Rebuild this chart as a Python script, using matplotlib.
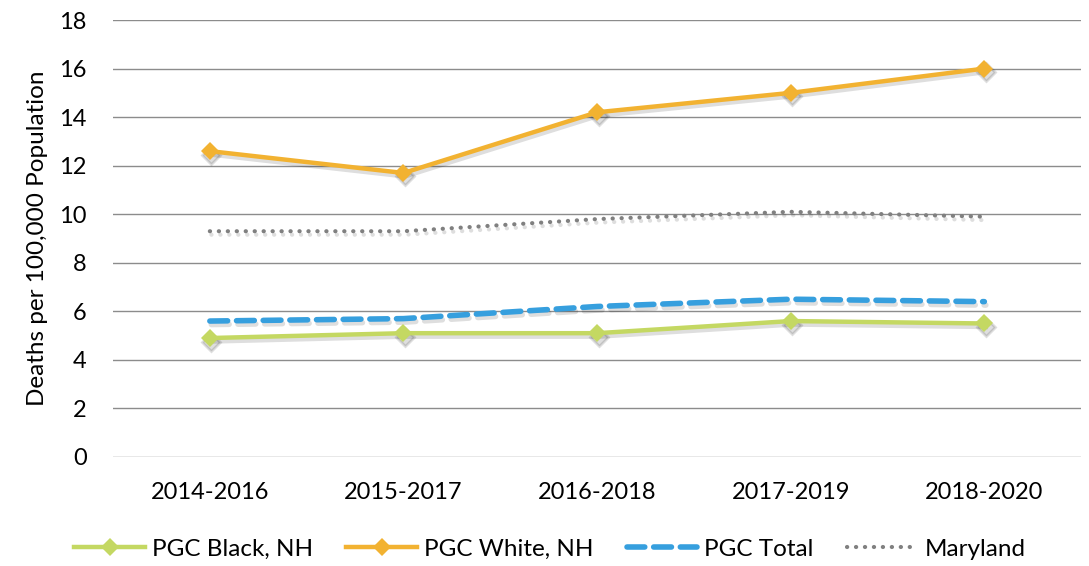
import matplotlib
matplotlib.use("Agg")
import matplotlib.pyplot as plt
import matplotlib.transforms as mtrans

periods = ["2014-2016", "2015-2017", "2016-2018", "2017-2019", "2018-2020"]
black_nh = [4.9, 5.1, 5.1, 5.6, 5.5]
white_nh = [12.6, 11.7, 14.2, 15.0, 16.0]
pgc_total = [5.6, 5.7, 6.2, 6.5, 6.4]
maryland = [9.3, 9.3, 9.8, 10.1, 9.9]

plt.rcParams['font.family'] = ['Lato', 'DejaVu Sans']

fig = plt.figure(figsize=(10.89, 5.66), dpi=100)
ax = fig.add_axes([0.1038, 0.1926, 0.889, 0.772])

x = list(range(len(periods)))
shadow_tr = mtrans.offset_copy(ax.transData, fig=fig, x=1.5, y=-3.5, units='dots')

series = [
    (black_nh, dict(color='#C4D862', lw=3.2, marker='D', ms=9, label='PGC Black, NH')),
    (white_nh, dict(color='#F2B231', lw=3.2, marker='D', ms=9, label='PGC White, NH')),
    (pgc_total, dict(color='#369FDE', lw=4, ls=(0, (3.2, 1.6)), dash_capstyle='round', label='PGC Total')),
    (maryland, dict(color='#808080', lw=3, ls=(0, (0.05, 2.1)), dash_capstyle='round', label='Maryland')),
]
for vals, kw in series:
    skw = dict(kw)
    skw.pop('label')
    skw['color'] = '#000000'
    ax.plot(x, vals, transform=shadow_tr, alpha=0.13, zorder=2, markeredgewidth=2, **skw)
for vals, kw in series:
    ax.plot(x, vals, zorder=4, markeredgewidth=0, **kw)

ax.set_xlim(-0.5, 4.5)
ax.set_ylim(0, 18)
ax.set_yticks(range(0, 19, 2))
ax.set_xticks(x)
ax.set_xticklabels(periods)
ax.grid(axis='y', color='#8C8C8C', lw=1.0)
ax.set_axisbelow(True)
for s in ax.spines.values():
    s.set_visible(False)
ax.tick_params(axis='both', length=0, labelsize=17, colors='black')
ax.tick_params(axis='x', pad=18)
ax.tick_params(axis='y', pad=19)
ax.set_ylabel('Deaths per 100,000 Population', fontsize=17.5, labelpad=8)

handles, labels = ax.get_legend_handles_labels()
leg = fig.legend(handles[-4:], labels[-4:], loc='center', bbox_to_anchor=(0.505, 0.03), ncol=4,
                 frameon=False, fontsize=17.5, handlelength=2.9, columnspacing=1.36,
                 handletextpad=0.3)

fig.savefig('out.png', dpi=100)
